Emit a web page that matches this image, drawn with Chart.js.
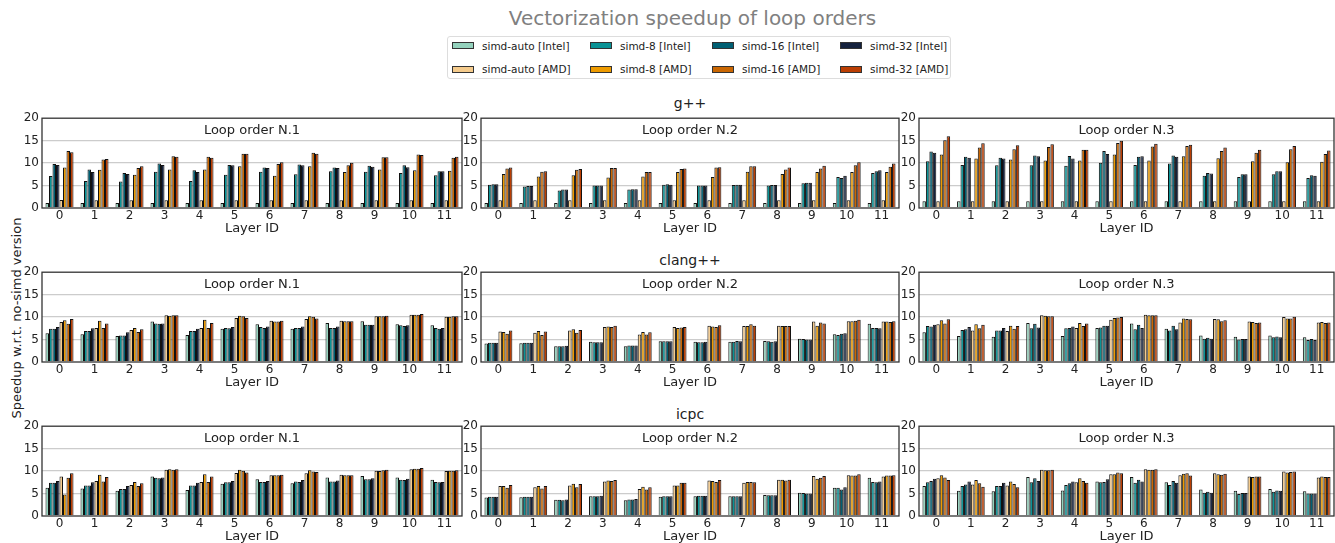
<!DOCTYPE html>
<html>
<head>
<meta charset="utf-8">
<script src="https://cdn.jsdelivr.net/npm/chart.js@4.4.1/dist/chart.umd.min.js"></script>
<style>
  body { margin: 0; width: 1335px; height: 543px; background: #fff; position: relative; overflow: hidden; font-family: 'DejaVu Sans', sans-serif; color: #222; }
  canvas { position: absolute; }
  #title { position: absolute; left: 0; width: 1385px; top: 6px; text-align: center; font-size: 20px; color: #808080; }
  #legend { position: absolute; left: 447px; top: 36px; width: 504px; height: 43px; border: 1px solid #ddd; border-radius: 3px; box-sizing: border-box; }
  .patch { position: absolute; width: 22px; height: 7px; border: 1px solid #333; box-sizing: border-box; }
  .ltext { position: absolute; font-size: 10.5px; line-height: 12px; white-space: nowrap; }
  .ptitle { position: absolute; left: 481px; width: 418px; text-align: center; font-size: 14px; line-height: 16px; }
  #ylab { position: absolute; left: 16px; top: 318px; transform: translate(-50%, -50%) rotate(-90deg); font-size: 13px; white-space: nowrap; }
</style>
</head>
<body>
<div id="title">Vectorization speedup of loop orders</div>
<div id="legend"></div>
<div id="ylab">Speedup w.r.t. no-simd version</div>
<script>
const layers = ['0', '1', '2', '3', '4', '5', '6', '7', '8', '9', '10', '11'];
const series = ['simd-auto [Intel]', 'simd-8 [Intel]', 'simd-16 [Intel]', 'simd-32 [Intel]',
                'simd-auto [AMD]', 'simd-8 [AMD]', 'simd-16 [AMD]', 'simd-32 [AMD]'];
const colors = ['#94d2bd', '#0a9396', '#005f73', '#14213d', '#f5cb8c', '#ee9b00', '#ca6702', '#bb3e03'];
const compilers = ['g++', 'clang++', 'icpc'];
const loopOrders = ['Loop order N.1', 'Loop order N.2', 'Loop order N.3'];
const yTicks = [0, 5, 10, 15, 20];

// one row per layer, values in the order of `series`
const gpp1 = [
  [1.1, 7.1, 9.8, 9.6, 1.8, 9.0, 12.7, 12.4],
  [1.1, 6.0, 8.6, 8.0, 1.7, 8.5, 10.8, 10.9],
  [1.1, 5.9, 7.8, 7.6, 1.7, 7.4, 8.9, 9.3],
  [1.1, 8.1, 9.9, 9.6, 1.7, 8.6, 11.5, 11.4],
  [1.1, 6.0, 8.4, 8.0, 1.7, 8.6, 11.4, 11.2],
  [1.1, 7.4, 9.6, 9.5, 1.7, 9.3, 12.1, 12.1],
  [1.1, 8.1, 9.0, 8.9, 1.7, 7.2, 9.8, 10.2],
  [1.1, 7.5, 9.7, 9.5, 1.7, 9.3, 12.3, 12.1],
  [1.1, 8.2, 9.0, 8.9, 1.7, 8.0, 9.5, 10.1],
  [1.1, 8.1, 9.4, 9.2, 1.7, 8.6, 11.3, 11.3],
  [1.1, 7.8, 9.5, 9.1, 1.7, 8.4, 11.9, 11.8],
  [1.1, 7.3, 8.2, 8.2, 1.7, 8.3, 11.2, 11.4]
];
const gpp2 = [
  [1.1, 5.2, 5.3, 5.3, 1.7, 7.6, 8.8, 9.0],
  [1.1, 4.8, 4.9, 4.9, 1.7, 7.0, 8.1, 8.2],
  [1.1, 3.9, 4.1, 4.1, 1.7, 7.3, 8.5, 8.7],
  [1.1, 5.0, 5.0, 5.0, 1.7, 6.8, 8.9, 8.9],
  [1.1, 4.1, 4.2, 4.2, 1.7, 7.0, 8.0, 8.0],
  [1.1, 5.2, 5.3, 5.2, 1.7, 8.0, 8.7, 8.8],
  [1.1, 5.0, 5.0, 5.0, 1.7, 6.9, 9.0, 9.1],
  [1.1, 5.1, 5.2, 5.2, 1.7, 8.1, 9.3, 9.3],
  [1.1, 5.0, 5.1, 5.1, 1.7, 7.6, 8.6, 9.0],
  [1.1, 5.5, 5.6, 5.6, 1.7, 8.0, 8.8, 9.4],
  [1.1, 6.9, 6.7, 7.2, 1.7, 8.0, 9.5, 10.2],
  [1.1, 7.8, 8.2, 8.4, 1.7, 8.0, 9.2, 9.9]
];
const gpp3 = [
  [1.5, 10.4, 12.6, 12.3, 1.5, 11.9, 15.1, 16.0],
  [1.5, 9.6, 11.4, 11.2, 1.5, 11.0, 13.5, 14.4],
  [1.5, 9.5, 11.2, 11.0, 1.5, 10.8, 13.1, 14.0],
  [1.5, 9.5, 11.7, 11.5, 1.5, 10.6, 13.6, 14.2],
  [1.5, 9.4, 11.6, 11.0, 1.5, 10.6, 13.0, 13.0],
  [1.5, 10.1, 12.7, 12.0, 1.5, 11.9, 14.5, 15.0],
  [1.5, 9.6, 11.4, 11.5, 1.5, 10.6, 13.7, 14.3],
  [1.5, 9.9, 11.7, 11.4, 1.5, 11.5, 13.8, 14.1],
  [1.5, 7.2, 7.8, 7.7, 1.5, 11.1, 12.7, 13.5],
  [1.5, 6.9, 7.5, 7.5, 1.5, 10.4, 12.3, 13.0],
  [1.5, 7.5, 8.2, 8.2, 1.5, 10.2, 13.1, 13.8],
  [1.5, 6.7, 7.3, 7.2, 1.5, 10.3, 12.0, 12.8]
];
const clang1 = [
  [6.4, 7.4, 7.4, 7.8, 8.9, 9.3, 8.5, 9.6],
  [6.2, 6.9, 6.9, 7.5, 7.6, 9.2, 7.6, 8.6],
  [5.8, 5.9, 5.9, 6.6, 7.1, 7.6, 6.7, 7.3],
  [9.0, 8.6, 8.5, 8.6, 10.4, 10.3, 10.4, 10.4],
  [6.0, 6.9, 6.9, 7.4, 7.6, 9.4, 7.6, 8.7],
  [7.4, 7.6, 7.5, 7.8, 9.8, 10.3, 10.2, 9.8],
  [8.4, 7.8, 7.6, 7.9, 9.2, 9.0, 9.0, 9.2],
  [7.4, 7.6, 7.6, 7.9, 9.6, 10.2, 10.1, 9.7],
  [8.7, 7.6, 7.6, 7.9, 9.2, 9.1, 9.1, 9.1],
  [9.1, 8.3, 8.3, 8.3, 10.2, 10.2, 10.2, 10.3],
  [8.4, 8.2, 8.0, 8.2, 10.5, 10.5, 10.5, 10.7],
  [8.2, 7.6, 7.4, 7.6, 10.1, 10.1, 10.2, 10.2]
];
const clang2 = [
  [4.1, 4.3, 4.3, 4.3, 6.8, 6.7, 6.3, 7.0],
  [4.2, 4.3, 4.3, 4.3, 6.5, 6.9, 6.0, 6.8],
  [3.5, 3.5, 3.5, 3.6, 7.0, 7.3, 6.5, 7.1],
  [4.5, 4.4, 4.4, 4.4, 7.8, 7.9, 7.8, 8.1],
  [3.5, 3.7, 3.7, 3.7, 6.1, 6.7, 6.1, 6.6],
  [4.6, 4.6, 4.6, 4.6, 7.8, 7.6, 7.7, 7.8],
  [4.5, 4.4, 4.4, 4.5, 8.1, 7.9, 7.8, 8.2],
  [4.5, 4.5, 4.7, 4.6, 8.0, 8.0, 8.4, 8.1],
  [4.7, 4.6, 4.5, 4.6, 8.1, 8.0, 8.0, 8.0],
  [5.2, 5.1, 5.0, 5.0, 9.0, 8.1, 8.8, 8.6],
  [6.2, 6.0, 6.3, 6.4, 9.1, 9.1, 9.2, 9.4],
  [8.5, 7.6, 7.6, 7.5, 9.0, 9.0, 8.9, 9.1]
];
const clang3 = [
  [6.6, 8.0, 7.9, 8.3, 8.4, 9.3, 8.6, 9.5],
  [5.8, 7.1, 7.3, 7.8, 7.0, 8.4, 7.5, 8.3],
  [5.6, 7.0, 7.0, 7.6, 6.9, 8.1, 7.4, 8.0],
  [8.7, 7.5, 8.5, 7.7, 10.4, 10.3, 10.2, 10.2],
  [5.8, 7.5, 7.6, 7.9, 7.6, 8.7, 8.0, 8.6],
  [7.6, 7.7, 8.1, 8.1, 9.4, 9.8, 9.9, 10.0],
  [8.6, 7.3, 8.3, 7.6, 10.5, 10.4, 10.4, 10.4],
  [7.4, 7.0, 8.1, 7.3, 8.8, 9.7, 9.6, 9.5],
  [5.9, 5.2, 5.4, 5.2, 9.6, 9.5, 9.1, 9.3],
  [5.6, 5.0, 5.1, 5.1, 9.0, 8.9, 8.7, 8.8],
  [5.9, 5.5, 5.7, 5.5, 10.0, 9.7, 9.7, 10.1],
  [5.5, 4.9, 5.1, 4.9, 8.8, 8.9, 8.7, 8.8]
];
const icpc1 = [
  [6.3, 7.4, 7.4, 7.8, 8.8, 4.8, 8.5, 9.5],
  [6.1, 6.8, 6.8, 7.5, 7.8, 9.2, 7.7, 8.7],
  [5.6, 6.0, 6.0, 6.7, 6.9, 7.6, 6.7, 7.3],
  [8.8, 8.5, 8.4, 8.6, 10.3, 10.4, 10.3, 10.4],
  [5.8, 6.8, 6.8, 7.4, 7.6, 9.3, 7.6, 8.8],
  [7.2, 7.5, 7.5, 7.8, 9.6, 10.3, 10.1, 9.7],
  [8.2, 7.6, 7.6, 7.8, 9.1, 9.1, 9.1, 9.2],
  [7.3, 7.7, 7.6, 8.0, 9.5, 10.2, 9.9, 9.8],
  [8.6, 7.7, 7.7, 7.9, 9.2, 9.1, 9.1, 9.1],
  [8.9, 8.2, 8.2, 8.4, 10.1, 10.0, 10.2, 10.3],
  [8.6, 8.1, 8.0, 8.3, 10.4, 10.5, 10.5, 10.7],
  [8.1, 7.6, 7.5, 7.6, 10.0, 10.1, 10.1, 10.2]
];
const icpc2 = [
  [4.1, 4.3, 4.3, 4.3, 6.7, 6.7, 6.3, 6.9],
  [4.2, 4.3, 4.3, 4.3, 6.4, 6.7, 6.1, 6.7],
  [3.6, 3.6, 3.5, 3.7, 6.8, 7.2, 6.4, 7.1],
  [4.4, 4.4, 4.4, 4.5, 7.7, 7.9, 7.8, 8.0],
  [3.5, 3.7, 3.7, 3.8, 6.0, 6.5, 5.9, 6.4],
  [4.3, 4.4, 4.4, 4.4, 6.8, 6.8, 7.4, 7.4],
  [4.4, 4.5, 4.5, 4.5, 7.9, 7.8, 7.6, 8.0],
  [4.4, 4.4, 4.4, 4.4, 7.4, 7.6, 7.6, 7.5],
  [4.7, 4.6, 4.6, 4.6, 8.1, 8.1, 7.9, 8.1],
  [5.2, 5.1, 5.0, 5.0, 8.9, 8.3, 8.5, 8.9],
  [6.3, 6.3, 5.9, 6.4, 9.1, 9.0, 9.0, 9.3],
  [8.5, 7.6, 7.5, 7.7, 8.8, 9.0, 9.0, 9.1]
];
const icpc3 = [
  [6.7, 7.5, 7.8, 8.3, 8.4, 9.1, 8.6, 8.0],
  [5.6, 6.7, 7.0, 7.7, 7.0, 8.0, 7.3, 6.5],
  [5.5, 6.7, 6.7, 7.4, 6.8, 7.7, 7.1, 6.4],
  [8.7, 7.5, 8.4, 7.8, 10.3, 10.2, 10.2, 10.3],
  [5.7, 6.9, 7.3, 7.7, 7.5, 8.4, 7.8, 7.4],
  [7.7, 7.5, 7.6, 8.2, 9.3, 9.3, 9.7, 9.5],
  [8.7, 7.4, 8.1, 7.7, 10.4, 10.3, 10.3, 10.4],
  [7.5, 6.9, 7.8, 7.4, 9.1, 9.4, 9.5, 9.0],
  [5.9, 5.2, 5.4, 5.2, 9.5, 9.3, 9.2, 9.4],
  [5.6, 4.9, 5.1, 5.1, 8.8, 8.7, 8.8, 8.8],
  [6.0, 5.4, 5.7, 5.6, 9.9, 9.7, 9.8, 9.9],
  [5.5, 5.0, 5.0, 5.0, 8.6, 8.8, 8.7, 8.7]
];

const panels = [[gpp1, gpp2, gpp3], [clang1, clang2, clang3], [icpc1, icpc2, icpc3]];

// layout of the 3x3 grid (plot areas in page pixels)
const colLeft = [42, 481, 919];
const colWidth = [420, 418, 415];
const rowTop = [116, 270, 424];
const titleTop = [95, 252, 406];
const plotH = 92;
const padL = 34, padT = 8, padR = 2, padB = 28;

Chart.defaults.font.family = "'DejaVu Sans', sans-serif";
Chart.defaults.color = '#222';

// legend
const legend = document.getElementById('legend');
const patchX = [451, 589, 711, 839], textX = [481, 619, 741, 869], rowY = [45.5, 69];
series.forEach((name, i) => {
  const c = i % 4, r = Math.floor(i / 4);
  const p = document.createElement('div');
  p.className = 'patch';
  p.style.left = (patchX[c] - 447) + 'px';
  p.style.top = (rowY[r] - 36 - 4.5) + 'px';
  p.style.background = colors[i];
  legend.appendChild(p);
  const t = document.createElement('div');
  t.className = 'ltext';
  t.style.left = (textX[c] - 447) + 'px';
  t.style.top = (rowY[r] - 36 - 7) + 'px';
  t.textContent = name;
  legend.appendChild(t);
});

// compiler titles
compilers.forEach((name, r) => {
  const d = document.createElement('div');
  d.className = 'ptitle';
  d.style.top = titleTop[r] + 'px';
  d.textContent = name;
  document.body.appendChild(d);
});

const frame = {
  id: 'frame',
  afterDraw(chart, args, opts) {
    const { ctx, chartArea: a } = chart;
    ctx.save();
    ctx.strokeStyle = '#333';
    ctx.lineWidth = 1.3;
    ctx.strokeRect(a.left, a.top, a.right - a.left, a.bottom - a.top);
    ctx.fillStyle = '#222';
    ctx.font = "13px 'DejaVu Sans'";
    ctx.textAlign = 'center';
    ctx.textBaseline = 'middle';
    ctx.fillText(opts.text, (a.left + a.right) / 2, a.top + 12);
    ctx.restore();
  }
};

panels.forEach((row, r) => {
  row.forEach((rows, c) => {
    const cv = document.createElement('canvas');
    const w = colWidth[c] + padL + padR, h = plotH + padT + padB;
    cv.width = w; cv.height = h;
    cv.style.left = (colLeft[c] - padL) + 'px';
    cv.style.top = (rowTop[r] - padT) + 'px';
    cv.style.width = w + 'px'; cv.style.height = h + 'px';
    document.body.appendChild(cv);

    const datasets = series.map((name, s) => ({
      label: name,
      data: rows.map(v => v[s]),
      backgroundColor: colors[s],
      borderColor: '#111',
      borderWidth: 1,
      borderSkipped: 'bottom',
      categoryPercentage: 0.8,
      barPercentage: 1.0
    }));

    new Chart(cv, {
      type: 'bar',
      data: { labels: layers, datasets },
      options: {
        responsive: false,
        animation: false,
        devicePixelRatio: 1,
        layout: { padding: { left: 0, top: padT, right: padR, bottom: 0 } },
        plugins: {
          legend: { display: false },
          tooltip: { enabled: false },
          frame: { text: loopOrders[c] }
        },
        scales: {
          x: {
            grid: { display: false, drawTicks: false },
            border: { display: false },
            ticks: { font: { size: 12 }, padding: 1, maxRotation: 0, autoSkip: false },
            title: { display: true, text: 'Layer ID', font: { size: 13 }, padding: { top: 0, bottom: 0 } },
            afterFit: s => { s.height = padB; }
          },
          y: {
            min: 0, max: 20,
            afterBuildTicks: s => { s.ticks = yTicks.map(v => ({ value: v })); },
            grid: {
              color: ctx => (ctx.tick && (ctx.tick.value === 0 || ctx.tick.value === 20)) ? 'rgba(0,0,0,0)' : '#cccccc',
              lineWidth: 1.3,
              drawTicks: false
            },
            border: { display: false },
            ticks: { font: { size: 12 }, padding: 3 },
            afterFit: s => { s.width = padL; }
          }
        }
      },
      plugins: [frame]
    });
  });
});
</script>
</body>
</html>
